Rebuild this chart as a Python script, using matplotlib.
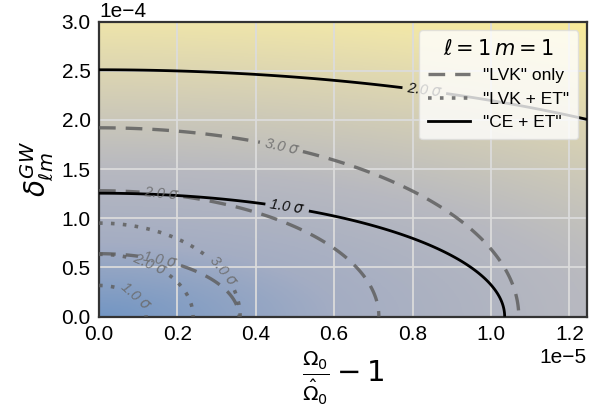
import numpy as np
import matplotlib
matplotlib.use("Agg")
import matplotlib.pyplot as plt
from matplotlib.lines import Line2D
from matplotlib.colors import LinearSegmentedColormap

# --- data ---
experiments = ['"LVK" only', '"LVK + ET"', '"CE + ET"']
sigma_x = [0.357e-5, 0.120e-5, 1.035e-5]    # 1-sigma half-width along x
sigma_y = [0.640e-4, 0.317e-4, 1.255e-4]    # 1-sigma half-width along y
levels = [1.0, 2.0, 3.0]
xlim = (0.0, 1.245e-5)
ylim = (0.0, 3.0e-4)

styles = [dict(ls=(0, (5, 3)), color='#606060', lw=2.4, alpha=0.85),
          dict(ls=(0, (1, 2.3)), color='#606060', lw=2.6, alpha=0.85),
          dict(ls='-', color='black', lw=2.0, alpha=1.0)]
label_colors = ['#6a6a6a', '#6a6a6a', '#111111']
manual_pos = [
    [(0.155e-5, 0.58e-4), (0.16e-5, 1.27e-4), (0.465e-5, 1.72e-4)],
    [(0.09e-5, 0.19e-4), (0.13e-5, 0.52e-4), (0.31e-5, 0.44e-4)],
    [(0.48e-5, 1.11e-4), (0.83e-5, 2.30e-4)],
]

plt.rcParams['font.family'] = ['Liberation Sans', 'DejaVu Sans']
plt.rcParams['mathtext.fontset'] = 'dejavusans'

fig = plt.figure(figsize=(6.02, 4.15), dpi=100)
ax = fig.add_axes([0.1645, 0.237, 0.8105, 0.711])

x = np.linspace(xlim[0], xlim[1], 400)
y = np.linspace(ylim[0], ylim[1], 400)
X, Y = np.meshgrid(x, y)

bg_cmap = LinearSegmentedColormap.from_list(
    'bg', [(0.0, '#7396c4'), (0.22, '#a4adc3'), (0.45, '#b8b9c0'),
           (0.70, '#d7d1b4'), (0.90, '#efe5aa'), (1.0, '#f9eb98')])

# background: distance for CE+ET
chi_bg = np.sqrt((X / sigma_x[2])**2 + (Y / sigma_y[2])**2)
ax.imshow(chi_bg, origin='lower', extent=(xlim[0], xlim[1], ylim[0], ylim[1]),
          aspect='auto', cmap=bg_cmap, vmin=0, vmax=chi_bg.max(), zorder=0)

for i in range(3):
    chi = np.sqrt((X / sigma_x[i])**2 + (Y / sigma_y[i])**2)
    st = styles[i]
    cs = ax.contour(X, Y, chi, levels=levels, colors=st['color'],
                    linestyles=[st['ls']], linewidths=st['lw'], alpha=st['alpha'],
                    zorder=3)
    labs = ax.clabel(cs, fmt=r'%.1f $\sigma$', fontsize=10.5, inline=True,
                     inline_spacing=4, manual=manual_pos[i], colors=label_colors[i])
    for t in labs:
        t.set_fontstyle('italic')

ax.set_xlim(*xlim)
ax.set_ylim(*ylim)
ax.set_xticks(np.arange(0, 1.25e-5, 0.2e-5))
ax.set_yticks(np.arange(0, 3.01e-4, 0.5e-4))
ax.ticklabel_format(style='sci', axis='both', scilimits=(0, 0))
ax.xaxis.get_offset_text().set_fontsize(15)
ax.yaxis.get_offset_text().set_fontsize(15)
ax.tick_params(labelsize=15, length=0, pad=6)
ax.grid(True, color='#dcdcdc', lw=1.4, alpha=0.9)
for sp in ax.spines.values():
    sp.set_color('#333333')
    sp.set_linewidth(1.6)

ax.set_xlabel(r'$\frac{\Omega_0}{\hat{\Omega}_0} - 1$', fontsize=21, labelpad=4)
ax.set_ylabel(r'$\delta^{GW}_{\ell m}$', fontsize=20)

handles = [Line2D([], [], ls=styles[i]['ls'], color=styles[i]['color'],
                  lw=styles[i]['lw'], alpha=styles[i]['alpha']) for i in range(3)]
leg = ax.legend(handles, experiments, title=r'$\ell = 1\, m = 1$', loc='upper right',
                fontsize=12.5, title_fontsize=15, framealpha=0.8, facecolor='white',
                edgecolor='#dddddd', handlelength=2.4, borderpad=0.5, labelspacing=0.5,
                borderaxespad=0.5)
leg.set_zorder(5)

fig.savefig('out.png', dpi=100)
